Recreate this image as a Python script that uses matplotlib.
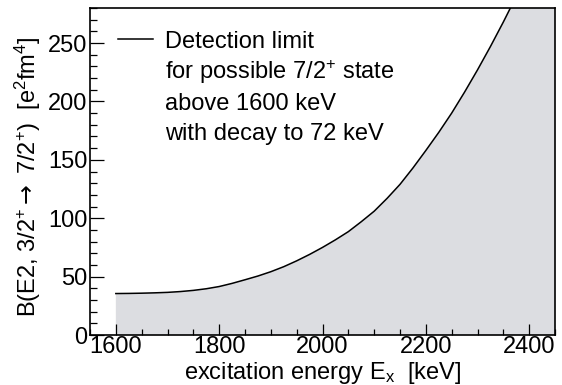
import numpy as np
import matplotlib
matplotlib.use("Agg")
import matplotlib.pyplot as plt
from matplotlib.ticker import MultipleLocator

plt.rcParams['font.family'] = ['Liberation Sans', 'DejaVu Sans']
plt.rcParams['mathtext.fontset'] = 'custom'
plt.rcParams['mathtext.rm'] = 'Liberation Sans'
plt.rcParams['mathtext.it'] = 'Liberation Sans:italic'
plt.rcParams['mathtext.bf'] = 'Liberation Sans:bold'
plt.rcParams['mathtext.sf'] = 'DejaVu Sans'

# detection limit curve, B(E2) in e^2 fm^4 vs excitation energy in keV
energy = [1600, 1625, 1650, 1675, 1700, 1725, 1750, 1775, 1800,
          1825, 1850, 1875, 1900, 1925, 1950, 1975, 2000, 2025,
          2050, 2075, 2100, 2125, 2150, 2175, 2200, 2225, 2250,
          2275, 2300, 2325, 2350, 2375, 2400, 2425, 2450]
b_e2 = [35.5, 35.6, 35.8, 36.1, 36.5, 37.2, 38.2, 39.6, 41.5,
        44.2, 47.3, 50.5, 54.2, 58.5, 63.5, 69.0, 75.0, 81.5,
        88.5, 97.0, 106.0, 117.0, 129.0, 143.0, 158.0, 173.5, 190.0,
        208.0, 227.0, 247.0, 268.0, 290.0, 313.0, 337.0, 362.0]

legend_lines = ["Detection limit",
                "for possible 7/2$^{+}$ state",
                "above 1600 keV",
                "with decay to 72 keV"]

FS = 17
W, H = 562, 385
fig = plt.figure(figsize=(W / 100, H / 100), dpi=100)
ax = fig.add_axes([90 / W, 1 - 335 / H, 465 / W, 327 / H])

ax.fill_between(energy, b_e2, 0, color='#dcdde1', lw=0)
ax.plot(energy, b_e2, color='black', lw=1.1, solid_joinstyle='round')

ax.set_xlim(1550, 2450)
ax.set_ylim(0, 280)
ax.xaxis.set_major_locator(MultipleLocator(200))
ax.xaxis.set_minor_locator(MultipleLocator(50))
ax.yaxis.set_major_locator(MultipleLocator(50))
ax.yaxis.set_minor_locator(MultipleLocator(10))

ax.tick_params(which='both', direction='in', top=False, right=False,
               width=0.9, colors='black', labelsize=FS)
ax.tick_params(axis='x', which='major', length=8, pad=0.5)
ax.tick_params(axis='x', which='minor', length=4)
ax.tick_params(axis='y', which='major', length=10, pad=2)
ax.tick_params(axis='y', which='minor', length=5)
for sp in ax.spines.values():
    sp.set_linewidth(1.2)

# axis titles
fig.text(322.5 / W, 1 - 379 / H, "excitation energy E$_{\\mathrm{x}}$  [keV]",
         ha='center', va='baseline', fontsize=FS)
fig.text(28 / W, 1 - 177 / H,
         "B(E2, 3/2$^{+}\\mathsf{\\rightarrow}$ 7/2$^{+}$)  [e$^{2}$fm$^{4}$]",
         ha='center', va='center', rotation=90, fontsize=FS)

# legend drawn by hand: one line sample and four text rows
ax.plot([118 / W, 153 / W], [1 - 39 / H, 1 - 39 / H], color='black', lw=1.1,
        transform=fig.transFigure, clip_on=False)
for i, txt in enumerate(legend_lines):
    fig.text(165 / W, 1 - (47.5 + 31 * i) / H, txt, ha='left', va='baseline',
             fontsize=FS)

fig.savefig("out.png", dpi=100)
